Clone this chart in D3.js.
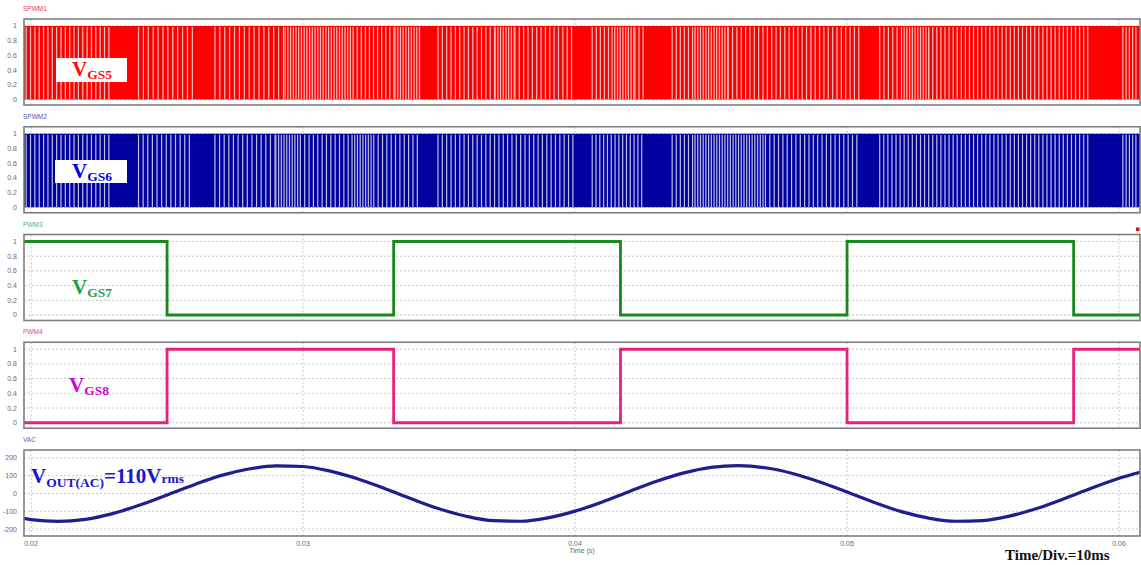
<!DOCTYPE html>
<html>
<head>
<meta charset="utf-8">
<script src="https://cdn.jsdelivr.net/npm/d3@7"></script>
<style>
	body { margin: 0; background: #fff; }
	svg { display: block; }
	.tickText { font-family: Arial, "Liberation Sans", sans-serif; font-size: 7px; fill: #6a6a6a; }
	.title { font-family: Arial, "Liberation Sans", sans-serif; font-size: 6.5px; }
	.sig { font-family: "Liberation Serif", "Times New Roman", serif; font-weight: bold; }
</style>
</head>
<body>
<div id="chart"></div>
<script>
// time axis, seconds
var timeDomain = [0.01974, 0.06077];
var timeTicks = [0.02, 0.03, 0.04, 0.05, 0.06];
var pwmTicks = [0, 0.2, 0.4, 0.6, 0.8, 1];
var vacTicks = [-200, -100, 0, 100, 200];

// SPWM traces: bands of light stripes [start, end, stripe pitch] (s)
// gaps between bands are where the trace renders solid
var spwm1Bands = [
	[0.01982, 0.02290, 0.00016],
	[0.02395, 0.02596, 0.00018],
	[0.02676, 0.02934, 0.00018],
	[0.02934, 0.03184, 0.00010],
	[0.03184, 0.03338, 0.00015],
	[0.03338, 0.03435, 0.00010],
	[0.03496, 0.03706, 0.00016],
	[0.03706, 0.03779, 0.00010],
	[0.03779, 0.04000, 0.00016],
	[0.04063, 0.04136, 0.00015],
	[0.04136, 0.04220, 0.00010],
	[0.04220, 0.04257, 0.00015],
	[0.04357, 0.04441, 0.00015],
	[0.04441, 0.04563, 0.00010],
	[0.04563, 0.05050, 0.00016],
	[0.05120, 0.05200, 0.00016],
	[0.05200, 0.05300, 0.00010],
	[0.05300, 0.05900, 0.00015],
	[0.06014, 0.06070, 0.00012]
];
var spwm2Bands = [
	[0.01982, 0.02290, 0.00016],
	[0.02395, 0.02590, 0.00017],
	[0.02676, 0.02900, 0.00017],
	[0.02900, 0.02990, 0.00010],
	[0.02990, 0.03180, 0.00016],
	[0.03180, 0.03260, 0.00010],
	[0.03260, 0.03435, 0.00016],
	[0.03496, 0.04000, 0.00016],
	[0.04063, 0.04257, 0.00014],
	[0.04357, 0.04441, 0.00015],
	[0.04441, 0.04700, 0.00010],
	[0.04700, 0.05050, 0.00016],
	[0.05120, 0.05900, 0.00015],
	[0.06014, 0.06070, 0.00012]
];

// PWM3 / PWM4: switching instants and the level held after each
var pwmTimes = [0.01974, 0.02500, 0.03333, 0.04167, 0.05000, 0.05833, 0.06077];
var pwm3Levels = [1, 0, 1, 0, 1, 0, 0];
var pwm4Levels = [0, 1, 0, 1, 0, 1, 1];

// VAC trace samples
var vacTimes = [0.01974, 0.020, 0.021, 0.022, 0.023, 0.024, 0.025, 0.026, 0.027, 0.028, 0.029,
	0.030, 0.031, 0.032, 0.033, 0.034, 0.035, 0.036, 0.037, 0.038, 0.039,
	0.040, 0.041, 0.042, 0.043, 0.044, 0.045, 0.046, 0.047, 0.048, 0.049,
	0.050, 0.051, 0.052, 0.053, 0.054, 0.055, 0.056, 0.057, 0.058, 0.059, 0.060, 0.06077];
var vacValues = [-140, -147, -157, -145, -113, -65, -8, 50, 102, 138, 156,
	152, 126, 83, 28, -31, -86, -128, -153, -156, -137,
	-99, -47, 12, 69, 116, 147, 157, 145, 113, 65,
	8, -50, -102, -138, -156, -152, -126, -83, -28, 31, 86, 120];

////////////////////////////////////////

var W = 1141, H = 565;
var left = 24, right = 1140;
var panelTop = 19, panelStep = 107.75, panelH = 86;

var svg = d3.select("#chart").append("svg")
	.attr("width", W)
	.attr("height", H);

svg.append("rect").attr("width", W).attr("height", H).attr("fill", "#fff");

var x = d3.scaleLinear().domain(timeDomain).range([left, right]);

function makePanel(i, yDomain, ticks, title, titleColor, tickFmt) {
	var top = panelTop + i * panelStep;
	var y = d3.scaleLinear().domain(yDomain).range([top + panelH, top]);
	var g = svg.append("g");

	g.append("text")
		.attr("class", "title")
		.attr("x", left - 1)
		.attr("y", top - 8)
		.attr("fill", titleColor)
		.text(title);

	// dashed grid
	g.selectAll(".hgrid").data(ticks).enter().append("line")
		.attr("x1", left).attr("x2", right)
		.attr("y1", function(d) { return y(d); })
		.attr("y2", function(d) { return y(d); })
		.attr("stroke", "#b8b8b8")
		.attr("stroke-width", 0.8)
		.attr("stroke-dasharray", "2,2");
	g.selectAll(".vgrid").data(timeTicks).enter().append("line")
		.attr("x1", function(d) { return x(d); })
		.attr("x2", function(d) { return x(d); })
		.attr("y1", top).attr("y2", top + panelH)
		.attr("stroke", "#b8b8b8")
		.attr("stroke-width", 0.8)
		.attr("stroke-dasharray", "2,2");

	g.selectAll(".ytick").data(ticks).enter().append("text")
		.attr("class", "tickText")
		.attr("x", 17)
		.attr("y", function(d) { return y(d) + 2.5; })
		.attr("text-anchor", "end")
		.text(tickFmt);

	return {g: g, y: y, top: top};
}

function drawFrame(p) {
	p.g.append("rect")
		.attr("x", left).attr("y", p.top)
		.attr("width", right - left).attr("height", panelH)
		.attr("fill", "none")
		.attr("stroke", "#7d7d7d")
		.attr("stroke-width", 1.6);
}

function drawSpwm(p, bands, color, stripe) {
	p.g.append("rect")
		.attr("x", x(timeDomain[0]))
		.attr("width", x(timeDomain[1]) - x(timeDomain[0]))
		.attr("y", p.y(1))
		.attr("height", p.y(0) - p.y(1))
		.attr("fill", color);

	var gaps = [];
	bands.forEach(function(b) {
		d3.range(b[0], b[1], b[2]).forEach(function(t) { gaps.push(t); });
	});

	p.g.selectAll(".gap").data(gaps).enter().append("rect")
		.attr("x", function(d) { return x(d) - 0.6; })
		.attr("width", 1.2)
		.attr("y", p.y(1) + 1)
		.attr("height", p.y(0) - p.y(1) - 1)
		.attr("fill", stripe);
}

function drawStep(p, levels, color) {
	var pts = pwmTimes.map(function(t, i) { return [t, levels[i]]; });
	var line = d3.line()
		.x(function(d) { return x(d[0]); })
		.y(function(d) { return p.y(d[1]); })
		.curve(d3.curveStepAfter);
	p.g.append("path")
		.attr("d", line(pts))
		.attr("fill", "none")
		.attr("stroke", color)
		.attr("stroke-width", 2.8);
}

var fmtPwm = function(d) { return d3.format("~g")(d); };
var fmtVac = function(d) { return d; };

var p1 = makePanel(0, [-0.075, 1.095], pwmTicks, "SPWM1", "#d24848", fmtPwm);
drawSpwm(p1, spwm1Bands, "#ff0000", "#f6bcbc");
drawFrame(p1);

var p2 = makePanel(1, [-0.075, 1.095], pwmTicks, "SPWM2", "#5a5aa6", fmtPwm);
drawSpwm(p2, spwm2Bands, "#00009e", "#bcbce4");
drawFrame(p2);

var p3 = makePanel(2, [-0.075, 1.095], pwmTicks, "PWM3", "#6aaa6a", fmtPwm);
drawStep(p3, pwm3Levels, "#17891f");
drawFrame(p3);

var p4 = makePanel(3, [-0.075, 1.095], pwmTicks, "PWM4", "#d2489a", fmtPwm);
drawStep(p4, pwm4Levels, "#e8217c");
drawFrame(p4);

var p5 = makePanel(4, [-239, 245], vacTicks, "VAC", "#5a64a6", fmtVac);
var vacLine = d3.line()
	.x(function(d, i) { return x(vacTimes[i]); })
	.y(function(d) { return p5.y(d); })
	.curve(d3.curveMonotoneX);
p5.g.append("path")
	.attr("d", vacLine(vacValues))
	.attr("fill", "none")
	.attr("stroke", "#1e1e8e")
	.attr("stroke-width", 3.2);
drawFrame(p5);

// time axis labels under the last panel
svg.selectAll(".xtick").data(timeTicks).enter().append("text")
	.attr("class", "tickText")
	.attr("x", function(d) { return x(d); })
	.attr("y", p5.top + panelH + 10)
	.attr("text-anchor", "middle")
	.text(function(d) { return d3.format(".2f")(d); });

svg.append("text")
	.attr("class", "tickText")
	.attr("x", (left + right) / 2)
	.attr("y", p5.top + panelH + 17)
	.attr("text-anchor", "middle")
	.text("Time (s)");

// little red marker at the top right of PWM3
svg.append("rect")
	.attr("x", right - 4).attr("y", p3.top - 7)
	.attr("width", 3.5).attr("height", 3.5)
	.attr("fill", "#e01010");

////////////////////////////////////////
// signal name annotations

function sigLabel(px, py, sub, color, box) {
	var g = svg.append("g");
	if (box) {
		g.append("rect")
			.attr("x", box[0]).attr("y", box[1])
			.attr("width", box[2]).attr("height", box[3])
			.attr("fill", "#fff");
	}
	var t = g.append("text")
		.attr("class", "sig")
		.attr("x", px).attr("y", py)
		.attr("fill", color);
	t.append("tspan").attr("font-size", "21px").text("V");
	t.append("tspan").attr("font-size", "13.5px").attr("dy", 3).text(sub);
	return g;
}

sigLabel(72, 76, "GS5", "#ff0a0a", [56, 58, 71, 24]);
sigLabel(72, 178, "GS6", "#0000e0", [55, 160, 72, 23]);
sigLabel(72, 294, "GS7", "#1b9f4a", null);
sigLabel(69, 392, "GS8", "#d000d8", null);

var vout = svg.append("text")
	.attr("class", "sig")
	.attr("x", 31).attr("y", 483)
	.attr("fill", "#1616cc");
vout.append("tspan").attr("font-size", "21px").text("V");
vout.append("tspan").attr("font-size", "13.5px").attr("dy", 4).text("OUT(AC)");
vout.append("tspan").attr("font-size", "21px").attr("dy", -4).text("=110V");
vout.append("tspan").attr("font-size", "13.5px").text("rms");

svg.append("text")
	.attr("class", "sig")
	.attr("x", 1005).attr("y", 560)
	.attr("font-size", "15px")
	.attr("fill", "#111")
	.text("Time/Div.=10ms");
</script>
</body>
</html>
